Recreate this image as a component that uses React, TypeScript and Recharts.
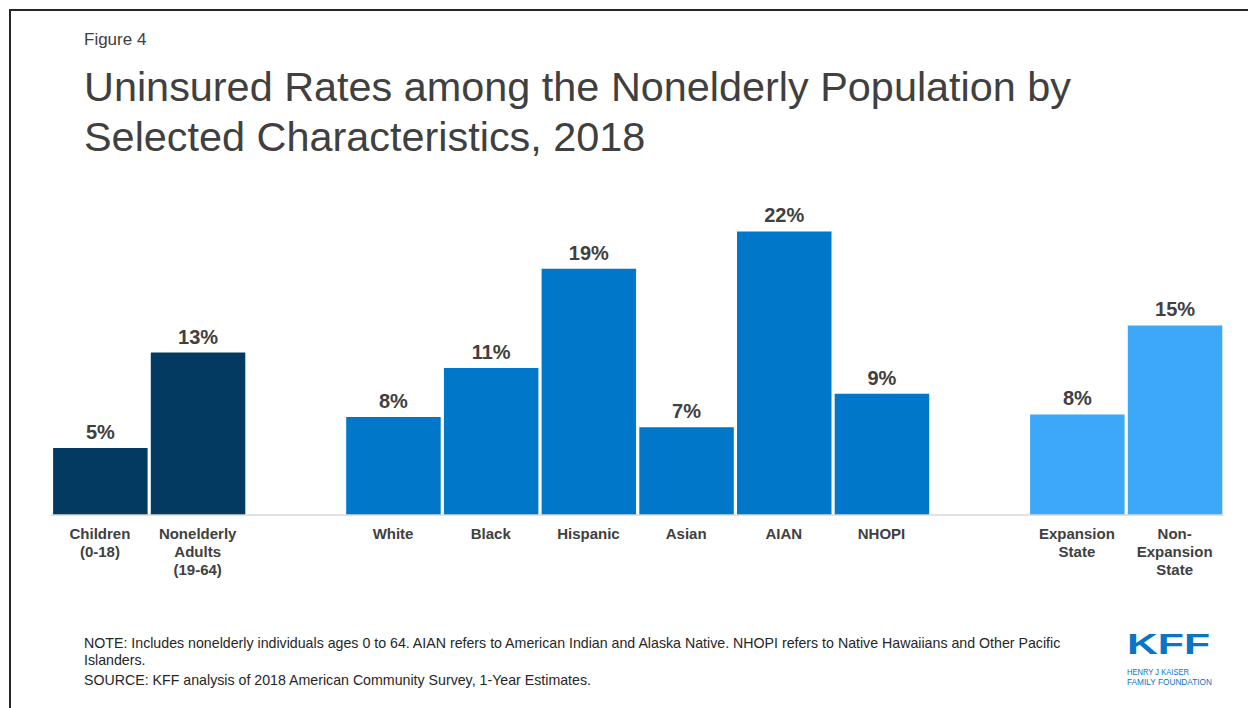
import { Bar, BarChart, Cell, LabelList, XAxis, YAxis } from "recharts";

// Uninsured rates among the nonelderly population, 2018 (KFF Figure 4)
const categories = [
  "Children\n(0-18)",
  "Nonelderly\nAdults\n(19-64)",
  "",
  "White",
  "Black",
  "Hispanic",
  "Asian",
  "AIAN",
  "NHOPI",
  "",
  "Expansion\nState",
  "Non-\nExpansion\nState",
];
const rates: (number | null)[] = [5.2, 12.6, null, 7.6, 11.4, 19.1, 6.8, 22.0, 9.4, null, 7.8, 14.7];
const groups = ["age", "age", "", "race", "race", "race", "race", "race", "race", "", "state", "state"];

const groupColors: Record<string, string> = {
  age: "#023a62",
  race: "#0077c8",
  state: "#3da8f7",
};

const data = categories.map((c, i) => ({ id: i, label: c, rate: rates[i], group: groups[i] }));

const FONT = "'Liberation Sans', Arial, sans-serif";
const TEXT = "#404040";

function CategoryTick(props: any) {
  const { x, y, payload } = props;
  const lines = String(categories[payload.value] ?? "").split("\n");
  return (
    <text x={x} y={y} textAnchor="middle" fontFamily={FONT} fontSize={15} fontWeight="bold" fill={TEXT}>
      {lines.map((l, i) => (
        <tspan key={i} x={x} dy={i === 0 ? 24 : 18}>
          {l}
        </tspan>
      ))}
    </text>
  );
}

export default function App() {
  return (
    <div
      style={{
        position: "absolute",
        left: 0,
        top: 0,
        width: 1248,
        height: 708,
        background: "#fff",
        overflow: "hidden",
        fontFamily: FONT,
      }}
    >
      {/* frame */}
      <div
        style={{
          position: "absolute",
          left: 9,
          top: 9,
          right: -10,
          bottom: -10,
          borderTop: "2px solid #262626",
          borderLeft: "2px solid #262626",
        }}
      />
      <div style={{ position: "absolute", left: 84, top: 30, fontSize: 17, color: TEXT }}>Figure 4</div>
      <div
        style={{
          position: "absolute",
          left: 84,
          top: 62,
          fontSize: 41.4,
          lineHeight: "50px",
          color: TEXT,
          width: 1150,
        }}
      >
        Uninsured Rates among the Nonelderly Population by
        <br />
        Selected Characteristics, 2018
      </div>

      <div style={{ position: "absolute", left: 0, top: 0 }}>
        <BarChart
          width={1248}
          height={600}
          data={data}
          margin={{ top: 205.6, right: 24.5, bottom: 0, left: 51.1 }}
        >
          <YAxis hide domain={[0, 24]} />
          <XAxis
            dataKey="id"
            interval={0}
            height={85}
            tickLine={false}
            tickSize={0}
            tickMargin={0}
            axisLine={{ stroke: "#d9d9d9", strokeWidth: 1.5 }}
            tick={<CategoryTick />}
          />
          <Bar dataKey="rate" barSize={94.5} isAnimationActive={false}>
            {data.map((d, i) => (
              <Cell key={i} fill={groupColors[d.group] ?? "transparent"} />
            ))}
            <LabelList
              dataKey="rate"
              position="top"
              offset={9}
              formatter={(v: any) => (v == null ? "" : `${Math.round(Number(v))}%`)}
              style={{ fontFamily: FONT, fontSize: 20, fontWeight: "bold", fill: TEXT }}
            />
          </Bar>
        </BarChart>
      </div>

      <div
        style={{
          position: "absolute",
          left: 84,
          top: 635,
          width: 995,
          fontSize: 14.2,
          lineHeight: "17px",
          color: "#262626",
        }}
      >
        NOTE: Includes nonelderly individuals ages 0 to 64. AIAN refers to American Indian and Alaska Native. NHOPI
        refers to Native Hawaiians and Other Pacific Islanders.
        <div style={{ marginTop: 3 }}>SOURCE: KFF analysis of 2018 American Community Survey, 1-Year Estimates.</div>
      </div>

      <svg style={{ position: "absolute", left: 1120, top: 625 }} width={110} height={70}>
        <text
          x={7}
          y={28.5}
          fontFamily={FONT}
          fontWeight="bold"
          fontSize={30}
          fill="#0a74c6"
          textLength={83}
          lengthAdjust="spacingAndGlyphs"
        >
          KFF
        </text>
        <text x={7} y={50} fontFamily={FONT} fontSize={9.5} fill="#0a74c6" textLength={62} lengthAdjust="spacingAndGlyphs">
          HENRY J KAISER
        </text>
        <text x={7} y={60} fontFamily={FONT} fontSize={9.5} fill="#0a74c6" textLength={85} lengthAdjust="spacingAndGlyphs">
          FAMILY FOUNDATION
        </text>
      </svg>
    </div>
  );
}
